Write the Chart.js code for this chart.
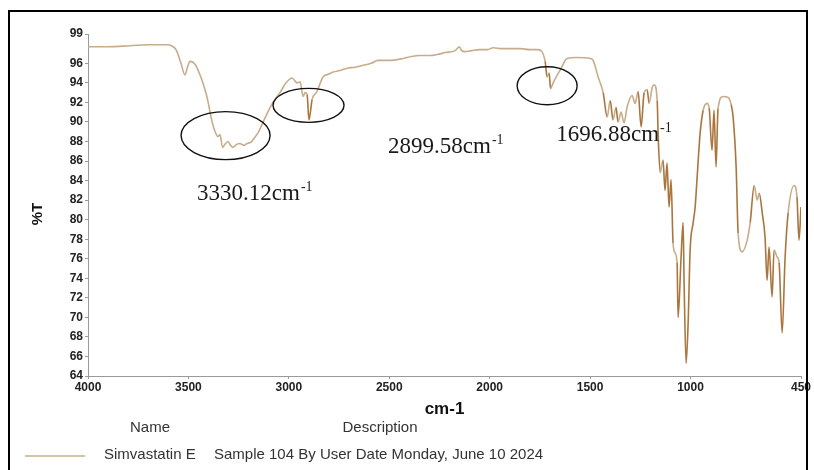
<!DOCTYPE html>
<html>
<head>
<meta charset="utf-8">
<script src="https://cdn.jsdelivr.net/npm/chart.js@4/dist/chart.umd.min.js"></script>
<style>
  html, body { margin: 0; padding: 0; background: #fff; }
  canvas { display: block; }
</style>
</head>
<body>
<canvas id="ir" width="814" height="470"></canvas>
<script>
// FTIR spectrum of simvastatin: wavenumber (cm-1) and transmittance (%T)
const wavenumbers = [
  4000, 3900, 3791, 3700, 3602, 3570, 3557, 3537, 3517, 3505, 3492, 3467, 3442, 3425, 3407,
  3382, 3367, 3353, 3343, 3330, 3315, 3303, 3290, 3278, 3260, 3243, 3225, 3208, 3190, 3178,
  3153, 3119, 3079, 3044, 3014, 2984, 2970, 2959, 2944, 2929, 2919, 2909, 2900, 2884, 2860,
  2830, 2800, 2780, 2740, 2710, 2670, 2630, 2590, 2556, 2500, 2431, 2390, 2347, 2300, 2262,
  2220, 2172, 2150, 2140, 2123, 2090, 2048, 2010, 1983, 1940, 1900, 1849, 1800, 1760, 1740,
  1724, 1714, 1704, 1697, 1684, 1664, 1649, 1615, 1565, 1500, 1485, 1460, 1435, 1415, 1400,
  1386, 1371, 1361, 1346, 1331, 1316, 1291, 1276, 1261, 1246, 1231, 1216, 1206, 1191, 1181,
  1166, 1161, 1151, 1137, 1127, 1117, 1107, 1097, 1087, 1077, 1067, 1062, 1047, 1037, 1032,
  1022, 1012, 1002, 987, 977, 967, 952, 937, 917, 907, 893, 883, 873, 863, 838,
  813, 798, 788, 773, 763, 743, 718, 703, 683, 668, 658, 643, 629, 619, 609,
  594, 584, 569, 559, 544, 529, 514, 484, 470, 460, 450
];
const transmittance = [
  97.7, 97.7, 97.8, 97.9, 97.9, 97.6, 97.2, 96.0, 94.8, 95.6, 96.2, 95.9, 94.8, 93.8, 92.5,
  90.0, 89.0, 88.5, 88.7, 87.4, 87.8, 88.0, 87.6, 87.4, 87.7, 87.8, 87.6, 87.8, 87.9, 88.2,
  88.9, 90.4, 92.0, 93.0, 94.0, 94.5, 94.2, 94.0, 94.1, 92.6, 93.0, 92.8, 90.2, 92.3, 93.1,
  94.6, 94.9, 95.1, 95.3, 95.5, 95.6, 95.8, 96.0, 96.3, 96.3, 96.5, 96.7, 96.8, 96.8, 96.9,
  97.1, 97.3, 97.7, 97.3, 97.2, 97.3, 97.4, 97.4, 97.6, 97.5, 97.5, 97.5, 97.4, 97.4, 97.2,
  96.2, 94.6, 95.0, 93.4, 94.0, 94.8, 95.3, 96.5, 96.6, 96.5, 96.3, 94.6, 93.0, 90.5, 92.2,
  90.2, 91.5, 90.0, 91.0, 89.9, 91.5, 92.7, 91.9, 93.1, 89.5, 93.0, 93.3, 91.9, 93.5, 93.8,
  92.2, 88.5, 84.8, 86.1, 83.0, 85.8, 81.3, 84.1, 77.6, 76.6, 75.6, 70.0, 76.2, 79.7, 73.5,
  65.3, 69.4, 76.9, 79.7, 81.3, 84.4, 88.9, 91.2, 91.9, 91.4, 87.1, 91.2, 85.4, 91.4, 92.6,
  92.5, 91.8, 90.5, 85.4, 78.6, 76.7, 77.9, 79.7, 83.5, 82.0, 82.7, 80.7, 78.2, 73.8, 77.2,
  72.1, 76.9, 76.2, 75.6, 68.4, 76.2, 80.7, 83.5, 82.3, 77.9, 81.3
];

// axis tick values
const xTickValues = [4000, 3500, 3000, 2500, 2000, 1500, 1000, 450];
const yTickValues = [64, 66, 68, 70, 72, 74, 76, 78, 80, 82, 84, 86, 88, 90, 92, 94, 96, 99];

// marked bands: centre in data units, labels with their anchor points
const bandCentresX = [3315, 2902, 1714];
const bandCentresY = [88.6, 91.7, 93.7];
const bandLabels = ['3330.12', '2899.58', '1696.88'];
const bandLabelX = [3457, 2506, 1669];
const bandLabelY = [82.0, 86.8, 88.05];

// legend row
const seriesName = 'Simvastatin E';
const seriesDescription = 'Sample 104 By User Date Monday, June 10 2024';

const LINE = 'rgb(200,172,140)';
const LINE_DARK = 'rgb(170,118,62)';

const points = wavenumbers.map((w, i) => ({ x: w, y: transmittance[i] }));

const decorations = {
  id: 'decorations',
  beforeDraw(chart) {
    const ctx = chart.ctx;
    ctx.save();
    ctx.fillStyle = '#fff';
    ctx.fillRect(0, 0, chart.width, chart.height);
    ctx.restore();
  },
  afterDraw(chart) {
    const ctx = chart.ctx;
    const xs = chart.scales.x, ys = chart.scales.y;
    ctx.save();

    // outer frame
    ctx.strokeStyle = '#000';
    ctx.lineWidth = 2;
    ctx.strokeRect(9, 11, 798, 480);

    // vertical axis title
    ctx.save();
    ctx.translate(38, 214);
    ctx.rotate(-Math.PI / 2);
    ctx.font = 'bold 15px "Liberation Sans", Arial, sans-serif';
    ctx.fillStyle = '#111';
    ctx.textAlign = 'center';
    ctx.textBaseline = 'middle';
    ctx.fillText('%T', 0, 0);
    ctx.restore();

    // ellipses round the marked bands
    const radii = [[44.5, 24], [35.5, 17], [30, 19]];
    ctx.lineWidth = 1.4;
    ctx.strokeStyle = '#111';
    bandCentresX.forEach((bx, i) => {
      ctx.beginPath();
      ctx.ellipse(xs.getPixelForValue(bx), ys.getPixelForValue(bandCentresY[i]),
                  radii[i][0], radii[i][1], 0, 0, Math.PI * 2);
      ctx.stroke();
    });

    // band labels, "cm" with superscript "-1"
    ctx.fillStyle = '#1a1a1a';
    ctx.textBaseline = 'alphabetic';
    ctx.textAlign = 'left';
    bandLabels.forEach((lab, i) => {
      const px = xs.getPixelForValue(bandLabelX[i]);
      const py = ys.getPixelForValue(bandLabelY[i]);
      ctx.font = '23px "Liberation Serif", "Times New Roman", serif';
      const main = lab + 'cm';
      ctx.fillText(main, px, py);
      const w = ctx.measureText(main).width;
      ctx.font = '14px "Liberation Serif", "Times New Roman", serif';
      ctx.fillText('-1', px + w + 1, py - 9);
    });

    // legend block
    ctx.font = '15px "Liberation Sans", Arial, sans-serif';
    ctx.fillStyle = '#333';
    ctx.textBaseline = 'middle';
    ctx.textAlign = 'center';
    ctx.fillText('Name', 150, 428);
    ctx.fillText('Description', 380, 428);
    ctx.textAlign = 'left';
    ctx.fillText(seriesName, 104, 455);
    ctx.fillText(seriesDescription, 214, 455);
    ctx.strokeStyle = LINE;
    ctx.lineWidth = 1.5;
    ctx.beginPath();
    ctx.moveTo(25, 456);
    ctx.lineTo(85, 456);
    ctx.stroke();

    ctx.restore();
  }
};

new Chart(document.getElementById('ir'), {
  type: 'line',
  data: {
    datasets: [{
      data: points,
      borderColor: LINE,
      borderWidth: 1.6,
      pointRadius: 0,
      fill: false,
      cubicInterpolationMode: 'monotone',
      segment: {
        borderColor: c => {
          const dy = Math.abs(c.p1.parsed.y - c.p0.parsed.y);
          const dx = Math.abs(c.p1.parsed.x - c.p0.parsed.x) || 1;
          return dy / dx > 0.12 ? LINE_DARK : LINE;
        }
      }
    }]
  },
  options: {
    responsive: false,
    animation: false,
    events: [],
    layout: { padding: { top: 34, right: 13, bottom: 0, left: 0 } },
    plugins: { legend: { display: false }, tooltip: { enabled: false } },
    scales: {
      x: {
        type: 'linear',
        reverse: true,
        min: 450,
        max: 4000,
        afterBuildTicks: s => { s.ticks = xTickValues.map(v => ({ value: v })); },
        afterFit: s => { s.height = 94; },
        border: { display: true, color: '#9a9a9a', width: 1 },
        grid: { drawOnChartArea: false, drawTicks: true, tickLength: 3, color: '#9a9a9a' },
        ticks: {
          autoSkip: false, maxRotation: 0, padding: 1,
          color: '#222',
          font: { family: '"Liberation Sans", Arial, sans-serif', size: 12, weight: 'bold' },
          callback: v => String(v)
        },
        title: {
          display: true, text: 'cm-1', color: '#111',
          font: { family: '"Liberation Sans", Arial, sans-serif', size: 17, weight: 'bold' },
          padding: { top: 0, bottom: 50 }
        }
      },
      y: {
        type: 'linear',
        min: 64,
        max: 99,
        afterBuildTicks: s => { s.ticks = yTickValues.map(v => ({ value: v })); },
        afterFit: s => { s.width = 88; },
        border: { display: true, color: '#9a9a9a', width: 1 },
        grid: { drawOnChartArea: false, drawTicks: true, tickLength: 3, color: '#9a9a9a' },
        ticks: {
          autoSkip: false, padding: 2,
          color: '#222',
          font: { family: '"Liberation Sans", Arial, sans-serif', size: 12, weight: 'bold' },
          callback: v => String(v)
        },
        title: { display: false }
      }
    }
  },
  plugins: [decorations]
});
</script>
</body>
</html>
